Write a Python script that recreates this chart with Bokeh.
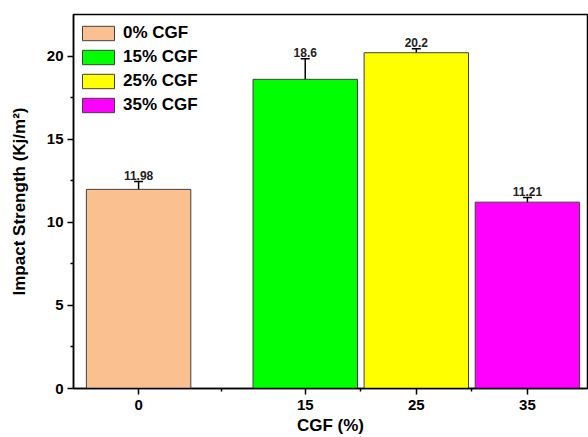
from bokeh.plotting import figure
from bokeh.models import ColumnDataSource, FixedTicker, Whisker, TeeHead, Range1d
from bokeh.embed import file_html
from bokeh.resources import INLINE
from bokeh.core.properties import value

# ---- data ----
cgf = [0, 15, 25, 35]
strength = [11.98, 18.6, 20.2, 11.21]
error = [0.47, 1.24, 0.24, 0.28]
value_labels = ["11.98", "18.6", "20.2", "11.21"]
legend_labels = ["0% CGF", "15% CGF", "25% CGF", "35% CGF"]
colors = ["#FAC08F", "#00FF00", "#FFFF00", "#FF00FF"]
x_ticks = [0, 15, 25, 35]
x_minor = [7.5, 20, 30]
y_ticks = [0, 5, 10, 15, 20]
y_minor = [2.5, 7.5, 12.5, 17.5]

FONT = "Liberation Sans"

src = ColumnDataSource(dict(
    x=cgf, top=strength, color=colors, label=legend_labels, txt=value_labels,
    upper=[s + e for s, e in zip(strength, error)],
    lower=[s - e for s, e in zip(strength, error)],
))

p = figure(width=588, height=437, output_backend="svg", toolbar_location=None,
           x_range=Range1d(-5.86, 40.41), y_range=Range1d(0, 22.5),
           min_border_left=73, min_border_right=1, min_border_top=14, min_border_bottom=47)

p.vbar(x="x", top="top", bottom=0, width=9.4, source=src, fill_color="color",
       line_color="#404040", line_width=1, legend_field="label")

p.add_layout(Whisker(base="x", upper="upper", lower="lower", source=src,
                     line_color="black", line_width=1.5,
                     upper_head=TeeHead(size=9, line_color="black", line_width=1.5),
                     lower_head=TeeHead(size=9, line_color="black", line_width=1.5)))

p.text(x="x", y="upper", text="txt", source=src, text_align="center",
       text_baseline="bottom", y_offset=-2, text_font=value(FONT),
       text_font_style="bold", text_font_size="12px", text_color="#222222")

# axes
p.xgrid.visible = False
p.ygrid.visible = False
p.outline_line_color = "black"
p.outline_line_width = 1.5

for ax in (p.xaxis[0], p.yaxis[0]):
    ax.axis_line_width = 1.5
    ax.axis_line_color = "black"
    ax.major_tick_in = 0
    ax.major_tick_out = 6
    ax.minor_tick_in = 0
    ax.minor_tick_out = 3
    ax.major_tick_line_width = 1.5
    ax.minor_tick_line_width = 1.5
    ax.major_label_text_font = FONT
    ax.major_label_text_font_style = "bold"
    ax.major_label_text_font_size = "15px"
    ax.major_label_text_color = "black"
    ax.axis_label_text_font = FONT
    ax.axis_label_text_font_style = "bold"
    ax.axis_label_text_font_size = "17px"
    ax.axis_label_text_color = "black"

p.xaxis.ticker = FixedTicker(ticks=x_ticks, minor_ticks=x_minor)
p.yaxis.ticker = FixedTicker(ticks=y_ticks, minor_ticks=y_minor)
p.xaxis.axis_label = "CGF (%)"
p.yaxis.axis_label = "Impact Strength (Kj/m²)"
p.xaxis.major_label_standoff = 5
p.yaxis.major_label_standoff = 4
p.xaxis.axis_label_standoff = 3
p.yaxis.axis_label_standoff = 15

leg = p.legend[0]
leg.location = (5, 273)
leg.margin = 0
leg.padding = 0
leg.spacing = 4
leg.glyph_width = 40
leg.glyph_height = 18
leg.label_height = 18
leg.label_standoff = 5
leg.border_line_color = None
leg.background_fill_alpha = 0
leg.label_text_font = FONT
leg.label_text_font_style = "bold"
leg.label_text_font_size = "17px"
leg.label_text_color = "black"

open("out.html", "w").write(file_html(p, INLINE))
